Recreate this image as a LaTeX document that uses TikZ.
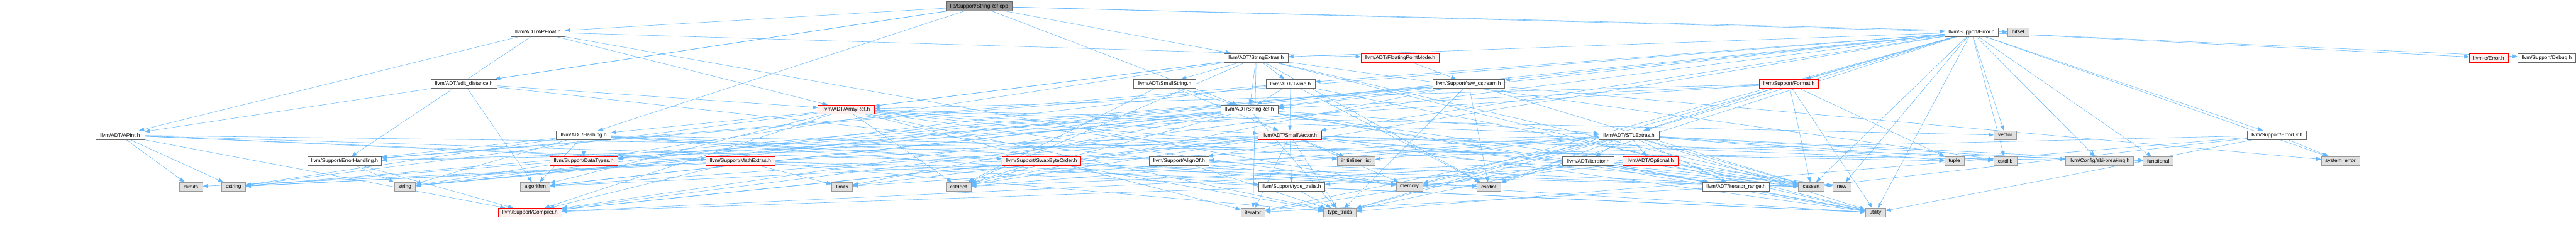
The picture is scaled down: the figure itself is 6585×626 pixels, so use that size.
\documentclass[tikz,border=0pt]{standalone}
\usepackage{fontspec}
\setmainfont{Liberation Sans}
\usetikzlibrary{arrows.meta}

\definecolor{edgeblue}{HTML}{63B8FF}
\definecolor{boxgray}{HTML}{666666}
\definecolor{sysgray}{HTML}{999999}
\definecolor{sysfill}{HTML}{E0E0E0}
\definecolor{rootfill}{HTML}{999999}
\definecolor{redline}{HTML}{FF0000}
\definecolor{redfill}{HTML}{FFF0F0}

\pgfdeclarelayer{background}
\pgfsetlayers{background,main}

\begin{document}
\begin{tikzpicture}[x=1pt, y=-1pt,
    every node/.style={font=\fontsize{13.3}{15}\selectfont, minimum height=23pt, inner sep=0pt},
    filebox/.style={draw=boxgray, fill=white, line width=1pt},
    sysbox/.style={draw=sysgray, fill=sysfill, line width=1pt},
    redbox/.style={draw=redline, fill=redfill, line width=1pt},
    rootbox/.style={draw=boxgray, fill=rootfill, line width=1pt},
    inc/.style={draw=edgeblue, line width=0.9pt, -{Triangle[length=13pt,width=10pt]}}]

    \useasboundingbox (0,0) rectangle (6585,626);

    % Root
    \node[rootbox, minimum width=168pt] (cpp) at (2503,16) {lib/Support/StringRef.cpp};

    % Row 1
    \node[filebox, minimum width=138pt] (apfloat) at (1375,82) {llvm/ADT/APFloat.h};
    \node[filebox, minimum width=136pt] (errorh) at (5040,82) {llvm/Support/Error.h};
    \node[sysbox, minimum width=54pt] (bitset) at (5159,82) {bitset};

    % Row 2
    \node[filebox, minimum width=164pt] (strextras) at (3211,148) {llvm/ADT/StringExtras.h};
    \node[redbox, minimum width=200pt] (fpmode) at (3579,148) {llvm/ADT/FloatingPointMode.h};
    \node[redbox, minimum width=99pt] (cerror) at (6362,148) {llvm-c/Error.h};
    \node[filebox, minimum width=148pt] (debug) at (6510,148) {llvm/Support/Debug.h};

    % Row 3
    \node[filebox, minimum width=168pt] (editdist) at (1186,214) {llvm/ADT/edit\_distance.h};
    \node[filebox, minimum width=159pt] (smallstr) at (2977,214) {llvm/ADT/SmallString.h};
    \node[filebox, minimum width=125pt] (twine) at (3299,214) {llvm/ADT/Twine.h};
    \node[filebox, minimum width=184pt] (rawos) at (3754,214) {llvm/Support/raw\_ostream.h};
    \node[redbox, minimum width=151pt] (format) at (4573,214) {llvm/Support/Format.h};

    % Row 4
    \node[redbox, minimum width=144pt] (arrayref) at (2163,280) {llvm/ADT/ArrayRef.h};
    \node[filebox, minimum width=146pt] (strref) at (3194,280) {llvm/ADT/StringRef.h};

    % Row 5
    \node[filebox, minimum width=125pt] (apint) at (307,346) {llvm/ADT/APInt.h};
    \node[filebox, minimum width=140pt] (hashing) at (1492,346) {llvm/ADT/Hashing.h};
    \node[redbox, minimum width=161pt] (smallvec) at (3297,346) {llvm/ADT/SmallVector.h};
    \node[filebox, minimum width=154pt] (stlextras) at (4164,346) {llvm/ADT/STLExtras.h};
    \node[sysbox, minimum width=58pt] (vector) at (5126,346) {vector};
    \node[filebox, minimum width=151pt] (erroror) at (5820,346) {llvm/Support/ErrorOr.h};

    % Row 6
    \node[filebox, minimum width=189pt] (errhandling) at (881,412) {llvm/Support/ErrorHandling.h};
    \node[redbox, minimum width=173pt] (datatypes) at (1492,412) {llvm/Support/DataTypes.h};
    \node[redbox, minimum width=177pt] (mathextras) at (1893,412) {llvm/Support/MathExtras.h};
    \node[redbox, minimum width=201pt] (swapbyte) at (2662,412) {llvm/Support/SwapByteOrder.h};
    \node[filebox, minimum width=153pt] (alignof) at (3014,412) {llvm/Support/AlignOf.h};
    \node[sysbox, minimum width=96pt] (initlist) at (3467,412) {initializer\_list};
    \node[filebox, minimum width=131pt] (iteratorh) at (4060,412) {llvm/ADT/iterator.h};
    \node[redbox, minimum width=140pt] (optional) at (4219,412) {llvm/ADT/Optional.h};
    \node[sysbox, minimum width=50pt] (tuple) at (4996,412) {tuple};
    \node[sysbox, minimum width=60pt] (cstdlib) at (5126,412) {cstdlib};
    \node[sysbox, minimum width=173pt] (abibreak) at (5367,412) {llvm/Config/abi-breaking.h};
    \node[sysbox, minimum width=77pt] (functional) at (5517,412) {functional};
    \node[sysbox, minimum width=98pt] (syserror) at (5983,412) {system\_error};

    % Row 7
    \node[sysbox, minimum width=60pt] (climits) at (488,478) {climits};
    \node[sysbox, minimum width=61pt] (cstring) at (597,478) {cstring};
    \node[sysbox, minimum width=54pt] (string) at (1035,478) {string};
    \node[sysbox, minimum width=75pt] (algorithm) at (1368,478) {algorithm};
    \node[sysbox, minimum width=53pt] (limits) at (2153,478) {limits};
    \node[sysbox, minimum width=64pt] (cstddef) at (2450,478) {cstddef};
    \node[filebox, minimum width=170pt] (typetraitsh) at (3302,478) {llvm/Support/type\_traits.h};
    \node[sysbox, minimum width=68pt] (memory) at (3603,478) {memory};
    \node[sysbox, minimum width=61pt] (cstdint) at (3806,478) {cstdint};
    \node[filebox, minimum width=171pt] (iterrange) at (4438,478) {llvm/ADT/iterator\_range.h};
    \node[sysbox, minimum width=65pt] (cassert) at (4630,478) {cassert};
    \node[sysbox, minimum width=46pt] (new) at (4708,478) {new};

    % Row 8
    \node[redbox, minimum width=161pt] (compiler) at (1355,544) {llvm/Support/Compiler.h};
    \node[sysbox, minimum width=62pt] (iterator) at (3203,544) {iterator};
    \node[sysbox, minimum width=83pt] (typetraits) at (3425,544) {type\_traits};
    \node[sysbox, minimum width=52pt] (utility) at (4794,544) {utility};

    % Includes
    \begin{pgfonlayer}{background}
    \foreach \s/\t in {cpp/strref, cpp/apfloat, cpp/apint, cpp/hashing, cpp/strextras,
        cpp/editdist, cpp/errorh, cpp/bitset,
        apfloat/apint, apfloat/arrayref, apfloat/fpmode, apfloat/errhandling, apfloat/memory,
        apint/compiler, apint/mathextras, apint/cassert, apint/climits, apint/cstring,
        apint/functional, apint/utility,
        errorh/cerror, errorh/stlextras, errorh/smallvec, errorh/strextras, errorh/twine,
        errorh/abibreak, errorh/alignof, errorh/compiler, errorh/debug, errorh/errhandling,
        errorh/erroror, errorh/format, errorh/rawos, errorh/algorithm, errorh/cassert,
        errorh/cstdint, errorh/cstdlib, errorh/functional, errorh/memory, errorh/new,
        errorh/string, errorh/syserror, errorh/typetraits, errorh/utility, errorh/vector,
        strextras/arrayref, strextras/smallstr, strextras/strref, strextras/twine,
        strextras/cassert, strextras/cstddef, strextras/cstdint, strextras/cstdlib,
        strextras/cstring, strextras/iterator, strextras/string, strextras/utility,
        fpmode/rawos,
        editdist/arrayref, editdist/algorithm, editdist/memory,
        smallstr/smallvec, smallstr/strref, smallstr/cstddef,
        twine/smallvec, twine/strref, twine/errhandling, twine/cassert, twine/cstdint, twine/string,
        rawos/strref, rawos/datatypes, rawos/cassert, rawos/cstddef, rawos/cstdint,
        rawos/cstring, rawos/string, rawos/syserror, rawos/typetraits,
        format/arrayref, format/stlextras, format/strref, format/datatypes, format/cassert,
        format/tuple, format/utility,
        arrayref/hashing, arrayref/smallvec, arrayref/stlextras, arrayref/compiler,
        arrayref/algorithm, arrayref/cassert, arrayref/cstddef, arrayref/initlist,
        arrayref/iterator, arrayref/memory, arrayref/typetraits, arrayref/vector,
        strref/stlextras, strref/iterrange, strref/compiler, strref/algorithm, strref/cassert,
        strref/cstddef, strref/cstring, strref/limits, strref/string, strref/typetraits,
        strref/utility,
        hashing/errhandling, hashing/datatypes, hashing/swapbyte, hashing/typetraitsh,
        hashing/algorithm, hashing/cassert, hashing/cstring, hashing/string, hashing/tuple,
        hashing/utility,
        smallvec/compiler, smallvec/errhandling, smallvec/typetraitsh, smallvec/algorithm,
        smallvec/cassert, smallvec/cstddef, smallvec/cstdlib, smallvec/cstring,
        smallvec/functional, smallvec/initlist, smallvec/iterator, smallvec/limits,
        smallvec/memory, smallvec/new, smallvec/typetraits, smallvec/utility,
        stlextras/optional, stlextras/iteratorh, stlextras/iterrange, stlextras/abibreak,
        stlextras/errhandling, stlextras/algorithm, stlextras/cassert, stlextras/cstddef,
        stlextras/cstdint, stlextras/cstdlib, stlextras/functional, stlextras/initlist,
        stlextras/iterator, stlextras/limits, stlextras/memory, stlextras/tuple,
        stlextras/typetraits, stlextras/utility,
        erroror/alignof, erroror/cassert, erroror/syserror, erroror/typetraits, erroror/utility,
        errhandling/compiler, errhandling/string,
        mathextras/compiler, mathextras/cassert, mathextras/climits, mathextras/cstdint,
        mathextras/cstring, mathextras/limits, mathextras/typetraits,
        swapbyte/compiler, swapbyte/cstddef, swapbyte/cstdint, swapbyte/typetraits,
        alignof/typetraits,
        iteratorh/iterrange, iteratorh/cstddef, iteratorh/iterator, iteratorh/typetraits,
        iteratorh/utility,
        optional/compiler, optional/typetraitsh, optional/cassert, optional/memory,
        optional/new, optional/utility,
        typetraitsh/compiler, typetraitsh/typetraits, typetraitsh/utility,
        iterrange/iterator, iterrange/utility}
        \draw[inc] (\s) -- (\t);
    \end{pgfonlayer}

\end{tikzpicture}
\end{document}
